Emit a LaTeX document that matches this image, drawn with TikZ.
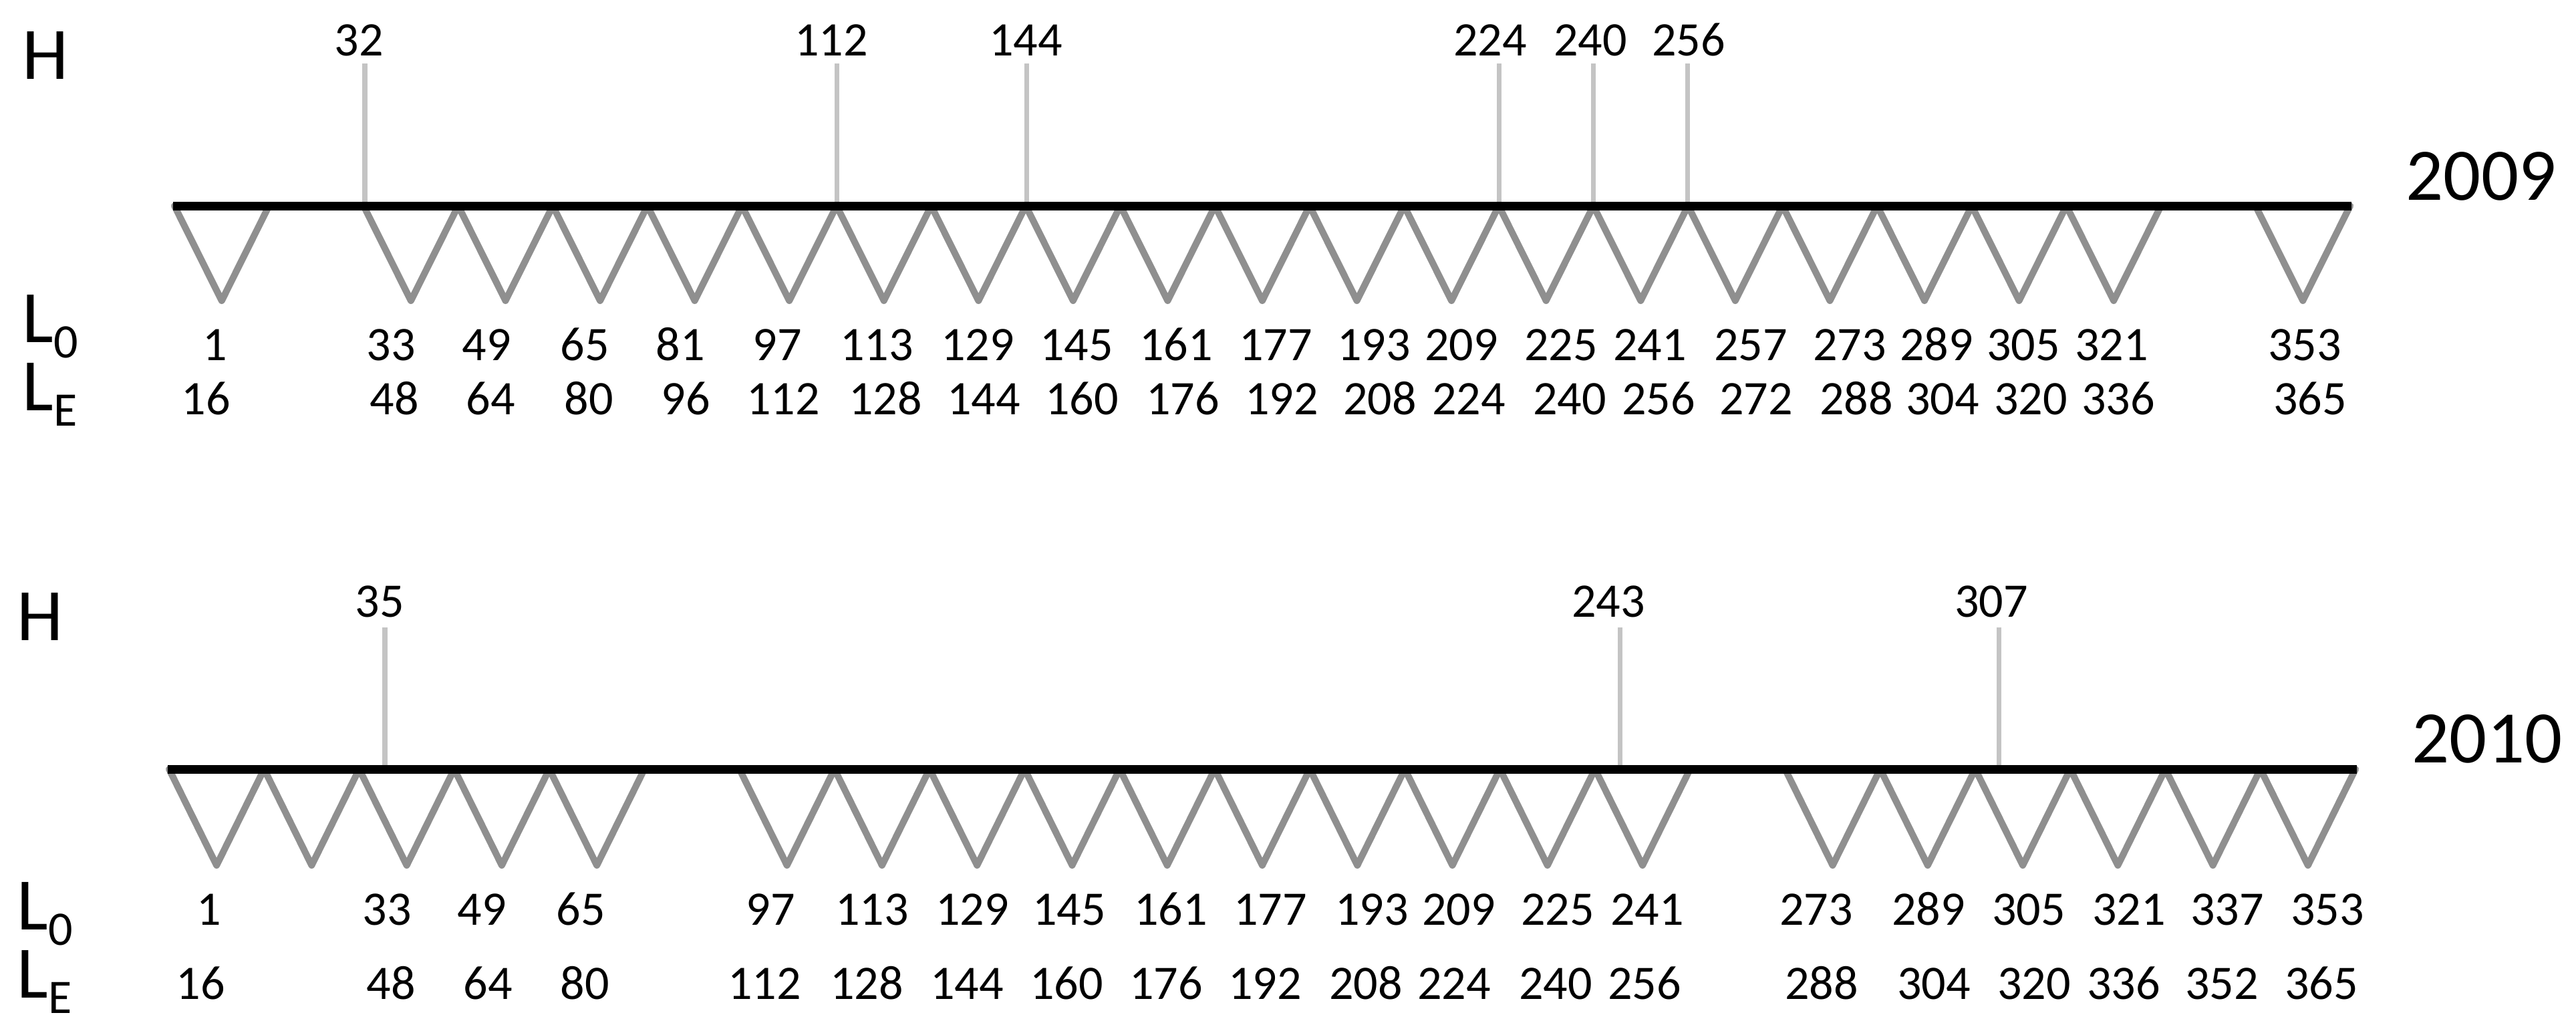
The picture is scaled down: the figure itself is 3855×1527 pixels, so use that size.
\documentclass[tikz,border=0pt]{standalone}
\usepackage{fontspec}
\setmainfont{Carlito}
\definecolor{trigray}{HTML}{8F8F8F}
\definecolor{hgray}{HTML}{C4C4C4}
\begin{document}
\begin{tikzpicture}[x=0.01cm,y=-0.01cm,
  tri/.style={draw=trigray,line width=2.85pt,line join=round,line cap=round},
  axisline/.style={draw=black,line width=3.7pt},
  hline/.style={draw=hgray,line width=2pt},
  num/.style={font=\fontsize{20.5}{24}\selectfont,inner sep=0pt,anchor=base},
  big/.style={font=\fontsize{31.5}{36}\selectfont,inner sep=0pt,anchor=base west}]
\useasboundingbox (0,0) rectangle (3855,1527);
\newcommand{\subx}[1]{\raisebox{-0.23cm}{\fontsize{20.5}{24}\selectfont #1}}
% ---------------- 2009 ----------------
\def\xa{261}\def\wa{141.565}
\draw[tri] (\xa,308) -- ({\xa+0.5*\wa},450) -- ({\xa+\wa},308);
\draw[tri] ({\xa+2*\wa},308) foreach \i in {2,...,20} { -- ({\xa+(\i+0.5)*\wa},450) -- ({\xa+(\i+1)*\wa},308) };
\draw[tri] ({\xa+22*\wa},308) -- ({\xa+22.5*\wa},450) -- ({\xa+23*\wa},308);
\foreach \xl/\xt/\v [count=\k] in {546/537/32,1252/1244/112,1536/1535/144,2243/2230/224,2384/2380/240,2525/2527/256}{
  \node[num] (h09-\k) at (\xt,83) {\v};
  \coordinate (h09top-\k) at (\xl,95);
  \coordinate (h09bot-\k) at (\xl,304);
  \draw[hline] (h09top-\k) -- (h09bot-\k);
}
\coordinate (a09l) at (259,308.5);
\coordinate (a09r) at (3519,308.5);
\draw[axisline] (a09l) -- (a09r);
\node[big] (H09) at (33,118) {H};
\node[big] (L009) at (33,512) {L\subx{0}};
\node[big] (LE09) at (33,614) {L\subx{E}};
\node[big] (Y09) at (3600,299) {2009};
\foreach \x/\v [count=\k] in {322/1,585/33,728/49,875/65,1018/81,1163/97,1312/113,1463/129,1611/145,1760/161,1909/177,2056/193,2187/209,2336/225,2469/241,2620/257,2768/273,2898/289,3028/305,3160/321,3449/353}
  \node[num] (s09-\k) at (\x,539) {\v};
\foreach \x/\v [count=\k] in {308/16,590/48,734/64,881/80,1026/96,1172/112,1325/128,1472/144,1619/160,1770/176,1918/192,2065/208,2198/224,2349/240,2482/256,2628/272,2778/288,2907/304,3039/320,3170/336,3457/365}
  \node[num] (e09-\k) at (\x,620) {\v};
% ---------------- 2010 ----------------
\def\xb{253}\def\wb{142.26}
\draw[tri] (\xb,1151) foreach \i in {0,...,4} { -- ({\xb+(\i+0.5)*\wb},1295) -- ({\xb+(\i+1)*\wb},1151) };
\draw[tri] ({\xb+6*\wb},1151) foreach \i in {6,...,15} { -- ({\xb+(\i+0.5)*\wb},1295) -- ({\xb+(\i+1)*\wb},1151) };
\draw[tri] ({\xb+17*\wb},1151) foreach \i in {17,...,22} { -- ({\xb+(\i+0.5)*\wb},1295) -- ({\xb+(\i+1)*\wb},1151) };
\foreach \xl/\xt/\v [count=\k] in {576/568/35,2424/2407/243,2991/2980/307}{
  \node[num] (h10-\k) at (\xt,923) {\v};
  \coordinate (h10top-\k) at (\xl,939);
  \coordinate (h10bot-\k) at (\xl,1147);
  \draw[hline] (h10top-\k) -- (h10bot-\k);
}
\coordinate (a10l) at (251,1151.5);
\coordinate (a10r) at (3527,1151.5);
\draw[axisline] (a10l) -- (a10r);
\node[big] (H10) at (25,958) {H};
\node[big] (L010) at (25,1391) {L\subx{0}};
\node[big] (LE10) at (25,1493) {L\subx{E}};
\node[big] (Y10) at (3609,1141) {2010};
\foreach \x/\v [count=\k] in {313/1,579/33,721/49,869/65,1153/97,1305/113,1455/129,1600/145,1752/161,1901/177,2053/193,2183/209,2331/225,2465/241,2718/273,2886/289,3036/305,3186/321,3333/337,3483/353}
  \node[num] (s10-\k) at (\x,1384) {\v};
\foreach \x/\v [count=\k] in {300/16,585/48,730/64,875/80,1144/112,1297/128,1447/144,1596/160,1745/176,1893/192,2044/208,2176/224,2328/240,2461/256,2726/288,2894/304,3044/320,3178/336,3325/352,3474/365}
  \node[num] (e10-\k) at (\x,1495) {\v};
\end{tikzpicture}
\end{document}
